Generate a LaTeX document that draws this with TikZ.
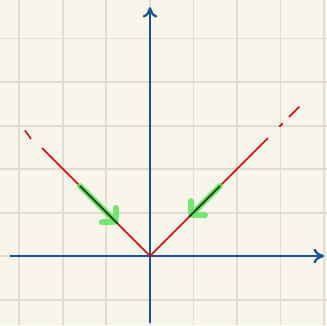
\documentclass[tikz,border=0pt]{standalone}
\usepackage{xcolor}
\usepackage{tikz}
\usetikzlibrary{arrows.meta}
\definecolor{paperbg}{RGB}{248,246,234}
\definecolor{gridgray}{RGB}{224,221,208}
\definecolor{axisblue}{RGB}{26,84,150}
\definecolor{absred}{RGB}{214,0,0}
\definecolor{gradgreen}{RGB}{92,230,92}
\tikzset{
  gridline/.style={line width=1.3pt, draw=gridgray},
  axisline/.style={line width=1.5pt, draw=axisblue, -{Computer Modern Rightarrow[length=2.4mm, width=3.4mm]}},
  curveline/.style={line width=1pt, draw=absred},
  gradarrow/.style={line width=3.8pt, draw=gradgreen, opacity=0.85, line cap=round,
    -{Straight Barb[length=2.2mm, width=4.6mm, round]}},
  gradcore/.style={line width=1.3pt, draw=black, opacity=0.65}
}

\begin{document}
\begin{tikzpicture}

% Background and bounding box
\fill[paperbg] (-3.448,-1.586) rectangle (4.069,5.885);
\useasboundingbox (-3.448,-1.586) rectangle (4.069,5.885);

% Grid
\foreach \x in {-3,...,4} {
  \draw[gridline] (\x,-1.586) -- (\x,5.885);
}
\foreach \y in {-1,...,5} {
  \draw[gridline] (-3.448,\y) -- (4.069,\y);
}

% Axes
\coordinate (xstart) at (-3.22,0);
\coordinate (xend) at (4.0,0);
\coordinate (ystart) at (0,-1.54);
\coordinate (yend) at (0,5.72);
\draw[axisline] (xstart) -- (xend);
\draw[axisline] (ystart) -- (yend);

% f(x) = |x|, solid near the origin, broken at the ends
\coordinate (origin) at (0,0);
\coordinate (lefttop) at (-2.48,2.48);
\coordinate (righttop) at (2.71,2.71);
\draw[curveline] (lefttop) -- (origin) -- (righttop);
\draw[curveline, line cap=round] (-2.74,2.70) -- (-2.87,2.88);
\draw[curveline, line cap=round] (2.98,2.98) -- (3.04,3.04);
\draw[curveline, line cap=round] (3.2,3.2) -- (3.43,3.43);

% Gradient directions towards the minimum
\coordinate (gleft) at (-1.61,1.61);
\coordinate (gleftend) at (-0.74,0.74);
\coordinate (gright) at (1.61,1.61);
\coordinate (grightend) at (0.9,0.9);
\draw[gradarrow] (gleft) -- (gleftend);
\draw[gradarrow] (gright) -- (grightend);
\draw[gradcore] (gleft) -- (gleftend);
\draw[gradcore] (gright) -- (grightend);

\end{tikzpicture}
\end{document}
